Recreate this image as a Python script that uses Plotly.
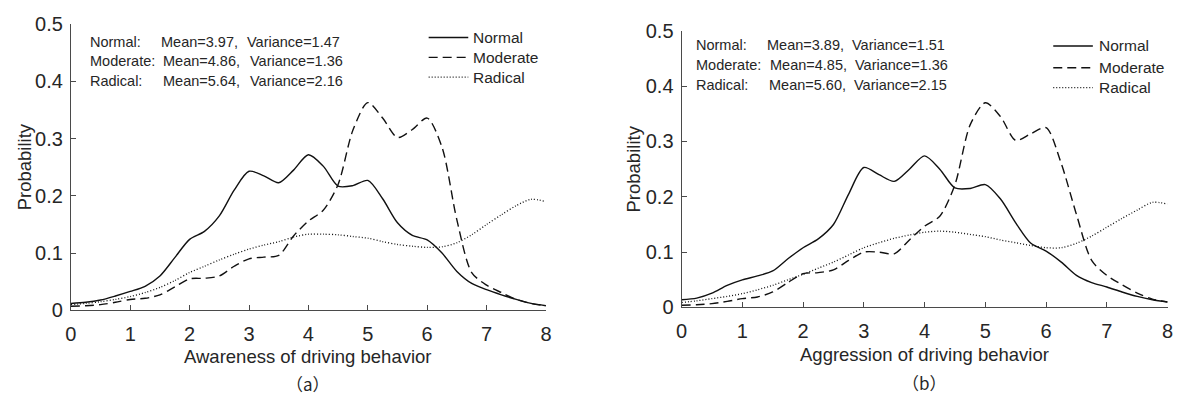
import plotly.graph_objects as go

# Shared grid of driving-behaviour scores (0..8, step 0.25)
score = [i * 0.25 for i in range(33)]

# (a) Awareness of driving behavior: probability curves
awareness_normal = [0.012, 0.014, 0.018, 0.025, 0.033, 0.042, 0.060, 0.092, 0.124, 0.138, 0.165,
                    0.210, 0.243, 0.235, 0.223, 0.245, 0.272, 0.252, 0.217, 0.218, 0.227, 0.195,
                    0.153, 0.131, 0.123, 0.100, 0.068, 0.047, 0.036, 0.027, 0.019, 0.012, 0.008]
awareness_moderate = [0.007, 0.008, 0.010, 0.014, 0.019, 0.021, 0.027, 0.041, 0.055, 0.056, 0.060,
                      0.077, 0.090, 0.093, 0.096, 0.130, 0.156, 0.175, 0.220, 0.315, 0.363, 0.336,
                      0.302, 0.316, 0.336, 0.285, 0.158, 0.066, 0.044, 0.031, 0.019, 0.012, 0.008]
awareness_radical = [0.010, 0.012, 0.015, 0.019, 0.024, 0.031, 0.040, 0.052, 0.066, 0.077, 0.088,
                     0.098, 0.107, 0.114, 0.120, 0.128, 0.133, 0.133, 0.132, 0.129, 0.126, 0.120,
                     0.115, 0.112, 0.110, 0.111, 0.118, 0.132, 0.150, 0.167, 0.183, 0.194, 0.190]

# (b) Aggression of driving behavior: probability curves
aggression_normal = [0.014, 0.017, 0.026, 0.040, 0.050, 0.057, 0.066, 0.088, 0.108, 0.124, 0.150,
                     0.205, 0.253, 0.240, 0.228, 0.250, 0.274, 0.250, 0.216, 0.215, 0.222, 0.196,
                     0.153, 0.116, 0.102, 0.082, 0.058, 0.045, 0.037, 0.028, 0.020, 0.014, 0.010]
aggression_moderate = [0.004, 0.005, 0.007, 0.011, 0.016, 0.019, 0.028, 0.045, 0.061, 0.063, 0.068,
                       0.085, 0.100, 0.100, 0.097, 0.122, 0.147, 0.165, 0.222, 0.330, 0.370, 0.345,
                       0.302, 0.314, 0.325, 0.260, 0.168, 0.085, 0.058, 0.041, 0.026, 0.015, 0.010]
aggression_radical = [0.009, 0.012, 0.016, 0.020, 0.025, 0.032, 0.040, 0.050, 0.060, 0.071, 0.082,
                      0.095, 0.108, 0.117, 0.125, 0.131, 0.136, 0.138, 0.136, 0.132, 0.128, 0.122,
                      0.117, 0.112, 0.108, 0.108, 0.116, 0.129, 0.145, 0.161, 0.176, 0.190, 0.187]

groups = ["Normal", "Moderate", "Radical"]
stats_a = [("3.97", "1.47"), ("4.86", "1.36"), ("5.64", "2.16")]
stats_b = [("3.89", "1.51"), ("4.85", "1.36"), ("5.60", "2.15")]
x_ticks = list(range(9))
y_ticks = [0, 0.1, 0.2, 0.3, 0.4, 0.5]
y_tick_text = ["0", "0.1", "0.2", "0.3", "0.4", "0.5"]

W, H = 1182, 405
FONT = "Liberation Sans, Arial, sans-serif"
TEXT = "#262626"
AXIS = "#4a4a4a"
INK = "#111111"
dash_styles = {"Normal": "solid", "Moderate": "9px,5px", "Radical": "1px,2px"}
widths = {"Normal": 1.4, "Moderate": 1.4, "Radical": 1.3}


def px(x):
    return x / W


def py(y):
    return (H - y) / H


fig = go.Figure()

panels = [
    ("x", "y", [awareness_normal, awareness_moderate, awareness_radical]),
    ("x2", "y2", [aggression_normal, aggression_moderate, aggression_radical]),
]
for xa, ya, series in panels:
    for name, vals in zip(groups, series):
        fig.add_trace(go.Scatter(
            x=score, y=vals, xaxis=xa, yaxis=ya, mode="lines", name=name,
            showlegend=False,
            line=dict(color=INK, width=widths[name], dash=dash_styles[name],
                      shape="spline", smoothing=0.8),
        ))

axis_common = dict(
    showline=True, linecolor=AXIS, linewidth=1, mirror=False,
    ticks="inside", ticklen=5, tickwidth=1, tickcolor=AXIS,
    showgrid=False, zeroline=False,
    tickfont=dict(family=FONT, size=20, color=TEXT),
)
x_common = dict(range=[0, 8], tickvals=x_ticks, ticklabelstandoff=6, **axis_common)
y_common = dict(range=[0, 0.5], tickvals=y_ticks, ticktext=y_tick_text,
                ticklabelstandoff=3, **axis_common)

fig.update_layout(
    width=W, height=H, autosize=False,
    margin=dict(l=0, r=0, t=0, b=0),
    paper_bgcolor="white", plot_bgcolor="white",
    font=dict(family=FONT, color=TEXT),
    xaxis=dict(domain=[px(65.5), px(545.5)], anchor="y", **x_common),
    yaxis=dict(domain=[py(316.5), py(14)], anchor="x", **y_common),
    xaxis2=dict(domain=[px(682.5), px(1173.5)], anchor="y2", **x_common),
    yaxis2=dict(domain=[py(313.5), py(21)], anchor="x2", **y_common),
)

annotations = []
shapes = []


def text(x, y, s, size, xanchor="left", angle=0, family=FONT):
    annotations.append(dict(
        x=px(x), y=py(y), xref="paper", yref="paper", text=s, showarrow=False,
        xanchor=xanchor, yanchor="middle", textangle=angle,
        font=dict(family=family, size=size, color=TEXT),
    ))


# Axis titles and panel captions
text(305.5, 365, "Awareness of driving behavior", 18.5, xanchor="center")
text(928, 363, "Aggression of driving behavior", 18.5, xanchor="center")
text(18.5, 165, "Probability", 18.5, xanchor="center", angle=-90)
text(634, 167, "Probability", 18.5, xanchor="center", angle=-90)
text(305.5, 394, "（a）", 17, xanchor="center", family="Noto Sans CJK SC")
text(928, 393, "（b）", 17, xanchor="center", family="Noto Sans CJK SC")

# Summary statistics
rows_a = [(33, 155, 241), (53, 157, 244), (74, 157, 244)]
rows_b = [(36, 767, 853), (57, 770, 856), (78, 769, 855)]
for (y, xm, xv), g, (m, v) in zip(rows_a, groups, stats_a):
    text(83, y, g + ":", 14.5)
    text(xm, y, "Mean=" + m + ",", 14.5)
    text(xv, y, "Variance=" + v, 14.5)
for (y, xm, xv), g, (m, v) in zip(rows_b, groups, stats_b):
    text(695, y, g + ":", 14.5)
    text(xm, y, "Mean=" + m + ",", 14.5)
    text(xv, y, "Variance=" + v, 14.5)

# Legends
legend_rows = [((427, 467, 470), [28, 49, 70]), ((1058, 1098, 1102), [37, 60, 81])]
for (x0, x1, xt), ys in legend_rows:
    for g, y in zip(groups, ys):
        shapes.append(dict(type="line", xref="paper", yref="paper",
                           x0=px(x0), x1=px(x1), y0=py(y), y1=py(y),
                           line=dict(color=INK, width=widths[g], dash=dash_styles[g])))
        text(xt, y, g, 15.5)

fig.update_layout(annotations=annotations, shapes=shapes)
fig.write_html("out.html")
